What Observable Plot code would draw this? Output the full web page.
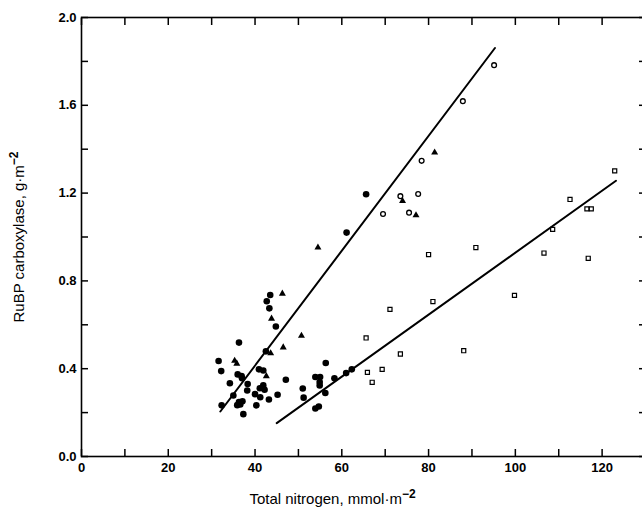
<!DOCTYPE html>
<html><head><meta charset="utf-8">
<script src="https://cdn.jsdelivr.net/npm/d3@7"></script>
<script src="https://cdn.jsdelivr.net/npm/@observablehq/plot@0.6"></script>
<style>
html,body{margin:0;padding:0;background:#fff;}
#chart svg{font-family:"Liberation Sans",Arial,Helvetica,sans-serif;}
</style>
</head><body><div id="chart"></div>
<script>
// Filled circles (total nitrogen, RuBP carboxylase)
const filledCircles = [
  [43.5,0.736],[42.7,0.707],[43.3,0.675],[44.8,0.592],[36.3,0.519],[42.5,0.479],
  [31.6,0.435],[32.2,0.389],[40.9,0.397],[41.9,0.392],[36.0,0.374],[36.9,0.366],
  [37.0,0.357],[47.1,0.350],[34.2,0.334],[38.3,0.330],[41.1,0.311],[41.9,0.324],
  [42.2,0.304],[38.2,0.301],[40.0,0.284],[41.2,0.270],[45.2,0.281],[43.2,0.260],
  [35.0,0.278],[36.3,0.248],[37.1,0.252],[35.9,0.234],[36.6,0.237],[32.3,0.233],
  [40.3,0.233],[37.3,0.193],[51.0,0.310],[51.2,0.268],[53.9,0.362],[55.0,0.362],
  [54.9,0.339],[54.9,0.324],[56.3,0.426],[58.3,0.356],[61.0,0.380],[62.3,0.397],
  [56.2,0.289],[53.9,0.219],[54.7,0.228],[65.6,1.195],[61.1,1.020]
];
// Filled triangles
const filledTriangles = [
  [46.3,0.742],[43.8,0.628],[50.7,0.550],[46.5,0.497],[43.6,0.470],[35.3,0.436],
  [35.8,0.423],[42.6,0.366],[54.5,0.952],[74.0,1.164],[77.1,1.099],[81.4,1.385]
];
// Open circles
const openCircles = [
  [95.1,1.783],[87.9,1.619],[78.4,1.347],[73.5,1.186],[77.6,1.196],[69.5,1.105],[75.5,1.111]
];
// Open squares
const openSquares = [
  [122.9,1.301],[112.6,1.171],[116.5,1.128],[117.5,1.128],[108.6,1.035],[106.6,0.927],
  [90.9,0.952],[80.0,0.920],[116.8,0.903],[99.8,0.734],[81.0,0.706],[71.1,0.670],
  [88.1,0.482],[73.5,0.467],[65.6,0.540],[65.9,0.383],[67.0,0.338],[69.3,0.397]
];
// Regression lines (end points)
const steepLine = [[32.0,0.205],[95.3,1.861]];
const shallowLine = [[45.0,0.152],[123.2,1.256]];

const xTicks = [0,10,20,30,40,50,60,70,80,90,100,110,120,130];
const xTickLabels = [0,20,40,60,80,100,120];
const yTicks = [0,0.2,0.4,0.6,0.8,1.0,1.2,1.4,1.6,1.8,2.0];
const yTickLabels = [0,0.4,0.8,1.2,1.6,2.0];
const xTitle = "Total nitrogen, mmol·m⁻²";
const yTitle = "RuBP carboxylase, g·m⁻²";

const tick = () => "";
const chart = Plot.plot({
  width: 642,
  height: 514,
  marginLeft: 81,
  marginRight: -3,
  marginTop: 17,
  marginBottom: 58,
  style: {background: "#fff", color: "#000"},
  x: {domain: [0, 130]},
  y: {domain: [0, 2]},
  marks: [
    Plot.frame({stroke: "#000", strokeWidth: 1.6}),
    Plot.axisX({anchor: "bottom", ticks: xTicks, tickSize: -7, tickFormat: tick, strokeWidth: 1.5, label: null}),
    Plot.axisX({anchor: "top", ticks: xTicks, tickSize: -7, tickFormat: tick, strokeWidth: 1.5, label: null}),
    Plot.axisY({anchor: "left", ticks: yTicks, tickSize: -7, tickFormat: tick, strokeWidth: 1.5, label: null}),
    Plot.axisY({anchor: "right", ticks: yTicks, tickSize: -7, tickFormat: tick, strokeWidth: 1.5, label: null}),
    Plot.axisX({anchor: "bottom", ticks: xTickLabels, tickSize: 0, tickPadding: 6, tickFormat: d3.format("d"),
      fontSize: 13, fontWeight: "bold", label: null}),
    Plot.axisY({anchor: "left", ticks: yTickLabels, tickSize: 0, tickPadding: 5, tickFormat: d3.format(".1f"),
      fontSize: 13, fontWeight: "bold", label: null}),
    Plot.line(steepLine, {x: d => d[0], y: d => d[1], stroke: "#000", strokeWidth: 2}),
    Plot.line(shallowLine, {x: d => d[0], y: d => d[1], stroke: "#000", strokeWidth: 2}),
    Plot.dot(filledCircles, {x: d => d[0], y: d => d[1], r: 3.3, fill: "#000", symbol: "circle"}),
    Plot.dot(filledTriangles, {x: d => d[0], y: d => d[1], r: 2.6, fill: "#000", symbol: "triangle"}),
    Plot.dot(openCircles, {x: d => d[0], y: d => d[1], r: 2.4, stroke: "#000", strokeWidth: 1.3, fill: "none", symbol: "circle"}),
    Plot.dot(openSquares, {x: d => d[0], y: d => d[1], r: 2.3, stroke: "#000", strokeWidth: 1.2, fill: "none", symbol: "square"}),
    Plot.text([xTitle], {text: d => d, frameAnchor: "bottom", dy: 43, dx: -31, fontSize: 15, fill: "#000", lineAnchor: "middle", textAnchor: "middle"}),
    Plot.text([yTitle], {text: d => d, frameAnchor: "left", dx: -62, rotate: -90, fontSize: 15, fill: "#000", lineAnchor: "middle", textAnchor: "middle"})
  ]
});
document.getElementById("chart").appendChild(chart);
// render the "−2" exponent as a raised tspan
d3.select(chart).selectAll("text").each(function() {
  const t = this.textContent;
  if (t.includes("⁻²")) {
    const el = d3.select(this);
    el.text(null);
    el.append("tspan").text(t.replace("⁻²", ""));
    el.append("tspan").attr("dy", "-0.55em").attr("font-size", "12").attr("font-weight", "bold").text("−2");
  }
});
</script>
</body></html>
